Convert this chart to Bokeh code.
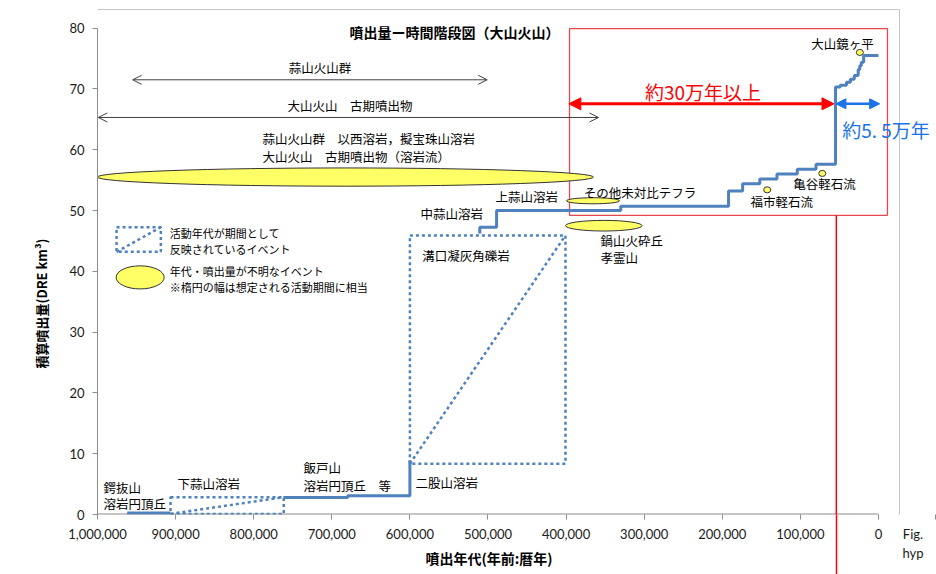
import numpy as np
from bokeh.plotting import figure
from bokeh.models import (Range1d, FixedTicker, NumeralTickFormatter, Label, Arrow,
                          OpenHead, NormalHead, Title)
from bokeh.embed import file_html
from bokeh.resources import INLINE

# ---------------- data ----------------
x_ticks = [1000000, 900000, 800000, 700000, 600000, 500000, 400000, 300000, 200000, 100000, 0]
y_ticks = [0, 10, 20, 30, 40, 50, 60, 70, 80]

# solid cumulative-volume steps (age [yr BP], cumulative volume after step [DRE km3])
seg_a_age = [962000, 906500]
seg_a_vol = [0.25, 0.25]
seg_b_age = [761500, 679500, 600000]
seg_b_vol = [2.8, 3.1, 8.9]
seg_c_age = [510500, 510500, 489000, 330000, 192000, 174000, 152000, 130000, 104000, 80000,
             55000, 49000, 41000, 36000, 31000, 26000, 24000, 22000, 19000, 0]
seg_c_vol = [46.2, 47.25, 50.0, 50.7, 53.2, 54.4, 55.2, 56.0, 56.8, 57.6,
             70.3, 70.6, 71.1, 71.6, 72.2, 73.2, 73.8, 74.4, 75.5, 75.5]

# events whose activity is a period (dotted boxes)
period_old = [906500, 600000]
period_young = [761500, 400800]
period_vol_start = [0.1, 8.35]
period_vol_end = [2.85, 45.9]

# events of unknown age / volume (ellipses)
ell_age = [682500, 365500, 351700]
ell_vol = [55.5, 51.6, 47.5]
ell_span = [635000, 68000, 98000]
ell_h = [3.0, 1.0, 1.75]

# small tephra / pumice flow markers
dot_name = ["福市軽石流", "亀谷軽石流", "大山鏡ヶ平"]
dot_age = [142500, 72000, 23900]
dot_vol = [53.4, 56.1, 76.0]

BLUE = "#4F81BD"
YEL = "#FFFF66"
JP = "Noto Sans CJK JP"
RED = "#FF0000"
LBLUE = "#1A73E8"
AX = "#8C8C8C"
TXT = "#000000"

X_END = -74264      # right edge of the drawing area (years BP)
Y_TOP = 84.54       # top edge of the drawing area (km3)
FIG_TICK = -73600   # page caption fragment at right edge
RED_LINE_AGE = 54000

p = figure(width=936, height=574, output_backend="svg", toolbar_location=None,
           x_range=Range1d(1000000, X_END), y_range=Range1d(0, Y_TOP),
           min_border_left=97, min_border_right=0, min_border_top=0, min_border_bottom=60)
p.title.visible = False
p.outline_line_color = None
p.grid.visible = False
p.background_fill_color = "white"
p.border_fill_color = "white"

for ax in (p.xaxis[0], p.yaxis[0]):
    ax.axis_line_color = AX
    ax.major_tick_line_color = AX
    ax.major_tick_out = 5
    ax.major_tick_in = 0
    ax.major_label_text_font = "Lato"
    ax.major_label_text_font_size = "13px"
    ax.major_label_text_color = "#1A1A1A"
    ax.axis_label_text_font = JP
    ax.axis_label_text_font_style = "bold"
    ax.axis_label_text_color = TXT
p.yaxis.ticker = FixedTicker(ticks=y_ticks)
p.yaxis.bounds = (0, 80)
p.yaxis.minor_tick_line_color = None
p.yaxis.major_label_standoff = 8

xa = p.xaxis[0]
xa.ticker = FixedTicker(ticks=x_ticks + [FIG_TICK], minor_ticks=[RED_LINE_AGE])
xa.formatter = NumeralTickFormatter(format="0,0")
xa.major_label_overrides = {FIG_TICK: "Fig.\u3000\nhyp\u3000"}
xa.axis_line_color = None
xa.minor_tick_line_color = RED
xa.minor_tick_line_width = 1.5
xa.minor_tick_out = 60
xa.minor_tick_in = 0
xa.major_label_standoff = -49
xa.axis_label = "噴出年代(年前:暦年)" + "\u3000" * 4
xa.axis_label_text_font_size = "14px"
xa.axis_label_standoff = -16

# y axis title
p.add_layout(Title(text="積算噴出量(DRE km³)", align="left", offset=146, standoff=31,
                   text_font=JP, text_font_size="13px", text_font_style="bold",
                   text_color=TXT), "left")

# x axis line (bounded to the data extent)
p.segment(x0=[x_ticks[0]], y0=[0], x1=[x_ticks[-1]], y1=[0], line_color=AX, line_width=2)

# outer gray frame (page figure border)
GF = "#C4C4C4"
p.segment(x0=[1112700, -26900], y0=[83.06, 83.06], x1=[-26900, -26900], y1=[83.06, -14],
          line_color=GF, line_width=1)

# red box and line
p.quad(left=[395600], right=[-11500], bottom=[49.2], top=[79.9], fill_color=None,
       line_color="#E5484D", line_width=1.3)
p.segment(x0=[RED_LINE_AGE], y0=[49.2], x1=[RED_LINE_AGE], y1=[-14], line_color=RED,
          line_width=1.5)

# dotted period boxes
p.quad(left=period_old, right=period_young, bottom=period_vol_start, top=period_vol_end,
       fill_color=None, line_color=BLUE, line_width=2.5, line_dash="3 3")
p.segment(x0=period_old, y0=period_vol_start, x1=period_young, y1=period_vol_end,
          line_color=BLUE, line_width=2.5, line_dash="3 3")

# solid steps
for ages, vols in ((seg_a_age, seg_a_vol), (seg_b_age, seg_b_vol), (seg_c_age, seg_c_vol)):
    p.step(ages, vols, mode="after", line_color=BLUE, line_width=3)

# ellipses
p.ellipse(x=ell_age, y=ell_vol, width=ell_span, height=ell_h, fill_color=YEL,
          line_color="#333333", line_width=1)
p.ellipse(x=dot_age, y=dot_vol, width=9000, height=1.0, fill_color=YEL,
          line_color="#333333", line_width=1)

# legend symbols
p.quad(left=[975600], right=[918900], bottom=[43.2], top=[47.25], fill_color=None,
       line_color=BLUE, line_width=2.5, line_dash="3 3")
p.segment(x0=[975600], y0=[43.2], x1=[918900], y1=[47.25], line_color=BLUE,
          line_width=2.5, line_dash="3 3")
p.ellipse(x=[945400], y=[39.0], width=61500, height=3.8, fill_color=YEL,
          line_color="#333333", line_width=1)

# arrows
oh = dict(size=9, line_color="#404040", line_width=1)
p.add_layout(Arrow(start=OpenHead(**oh), end=OpenHead(**oh), x_start=955000, y_start=71.5,
                   x_end=501000, y_end=71.5, line_color="#404040", line_width=1))
p.add_layout(Arrow(start=OpenHead(**oh), end=OpenHead(**oh), x_start=999000, y_start=65.3,
                   x_end=358500, y_end=65.3, line_color="#404040", line_width=1))
p.add_layout(Arrow(start=NormalHead(size=12, fill_color=RED, line_color=RED),
                   end=NormalHead(size=12, fill_color=RED, line_color=RED),
                   x_start=396500, y_start=67.55, x_end=57000, y_end=67.55,
                   line_color=RED, line_width=3))
p.add_layout(Arrow(start=NormalHead(size=10, fill_color=LBLUE, line_color=LBLUE),
                   end=NormalHead(size=10, fill_color=LBLUE, line_color=LBLUE),
                   x_start=54500, y_start=67.55, x_end=-1500, y_end=67.55,
                   line_color=LBLUE, line_width=2.5))


def lab(text, x, y, size="12.5px", align="left", color=TXT, style="normal",
        font=JP):
    p.add_layout(Label(x=x, y=y, text=text, text_font=font, text_font_size=size,
                       text_align=align, text_baseline="middle", text_color=color,
                       text_font_style=style))


lab("噴出量ー時間階段図（大山火山）", 542900, 79.3, size="14px", align="center", style="bold")
lab("蒜山火山群", 715100, 73.5, align="center")
lab("大山火山　古期噴出物", 756700, 67.3)
lab("蒜山火山群　以西溶岩，擬宝珠山溶岩", 788700, 61.8)
lab("大山火山　古期噴出物（溶岩流）", 788700, 58.8)
lab("鍔抜山", 992300, 4.49)
lab("溶岩円頂丘", 992300, 1.76)
lab("下蒜山溶岩", 897600, 5.1)
lab("飯戸山", 736200, 7.78)
lab("溶岩円頂丘　等", 736200, 4.77)
lab("二股山溶岩", 592800, 5.31)
lab("溝口凝灰角礫岩", 584200, 42.6)
lab("中蒜山溶岩", 586400, 49.5)
lab("上蒜山溶岩", 490400, 52.3)
lab("その他未対比テフラ", 377300, 53.0)
lab("鍋山火砕丘", 356000, 45.1)
lab("孝霊山", 356000, 42.3)
lab(dot_name[0], 163900, 51.5)
lab(dot_name[1], 109200, 54.4)
lab(dot_name[2], 86200, 77.5)
lab("活動年代が期間として", 907400, 46.3, size="11px")
lab("反映されているイベント", 907400, 43.7, size="11px")
lab("年代・噴出量が不明なイベント", 907400, 40.1, size="11px")
lab("※楕円の幅は想定される活動期間に相当", 907400, 37.4, size="11px")
lab("約30万年以上", 224700, 69.5, size="19px", align="center", color=RED)
lab("約5. 5万年", 46500, 63.3, size="19px", color=LBLUE)

open("out.html", "w").write(file_html(p, INLINE))
